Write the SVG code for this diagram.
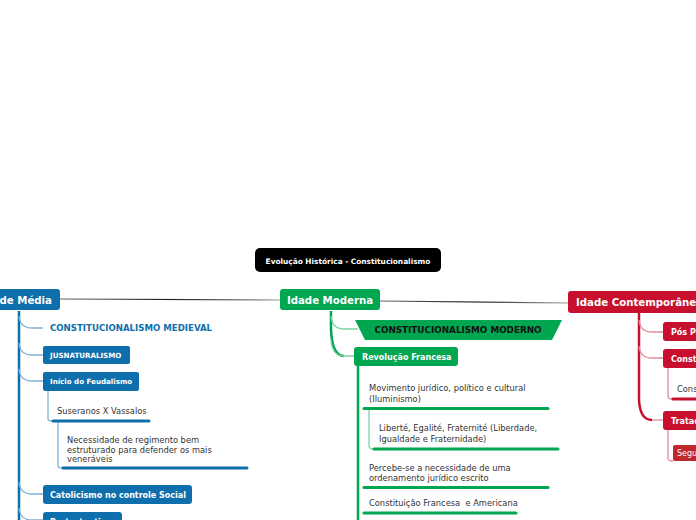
<svg xmlns="http://www.w3.org/2000/svg" width="696" height="520" viewBox="0 0 696 520">
<defs>
<style>
text{font-family:"DejaVu Sans","Verdana",sans-serif}
.w{fill:#fff;font-weight:bold}
.main{font-size:10.2px}
.sub{font-size:8px}
.body{fill:#333;font-size:8.3px}
.blue{fill:#0F6FAD}
.green{fill:#00A650}
.red{fill:#C8102E}
.tb{stroke:#0F6FAD;stroke-width:2.5;fill:none}
.bb{stroke:#7FB3D6;stroke-width:1.3;fill:none}
.tg{stroke:#00A650;stroke-width:2.5;fill:none}
.bg{stroke:#7ED3A4;stroke-width:1.3;fill:none}
.tr{stroke:#C8102E;stroke-width:2.5;fill:none}
.br{stroke:#E28A98;stroke-width:1.3;fill:none}
.ub{stroke:#0F6FAD;stroke-width:3;stroke-linecap:round}
.ug{stroke:#00A650;stroke-width:3;stroke-linecap:round}
.ur{stroke:#C8102E;stroke-width:3;stroke-linecap:round}
</style>
<linearGradient id="lg1" x1="0" x2="1" y1="0" y2="0"><stop offset="0" stop-color="#666"/><stop offset="0.5" stop-color="#222"/><stop offset="1" stop-color="#999"/></linearGradient>
</defs>
<g id="connectors">
<path d="M60,299 L280,300" stroke="url(#lg1)" stroke-width="1.2" fill="none"/>
<path d="M380,301 L568,303" stroke="url(#lg1)" stroke-width="1.2" fill="none"/>
<path class="tb" d="M19,311 V520"/>
<path class="bb" d="M19,316 Q20,328 32,328 H43"/>
<path class="bb" d="M19,343 Q20,355 32,355 H43"/>
<path class="bb" d="M19,369 Q20,381 32,381 H43"/>
<path class="bb" d="M19,482 Q20,494 32,494 H43"/>
<path class="bb" d="M19,508 Q20,520 32,520 H43"/>
<path class="bb" d="M48,391 V419 Q48,421 52,421"/>
<path class="bb" d="M58,421 V466 Q58,468 62,468"/>
<path class="tg" d="M331,311 V329"/>
<path class="bg" d="M331,316 Q332,329 344,329 H358"/>
<path class="tg" d="M331,329 Q332,356 344,356"/>
<path class="bg" d="M331,340 Q332,356 344,356 H354"/>
<path class="tg" d="M358,366 V520"/>
<path class="bg" d="M369,408 V446 Q369,449 373,449"/>
<path class="tr" d="M639,313 V400 Q640,420 652,420"/>
<path class="br" d="M639,320 Q640,332 652,332 H663"/>
<path class="br" d="M639,346 Q640,358 652,358 H663"/>
<path class="br" d="M652,420 H663"/>
<path class="br" d="M668,368 V396 Q668,399 672,399"/>
<path class="br" d="M668,430 V458 Q668,461 673,461"/>
</g>
<g id="title">
<rect x="255" y="248" width="186" height="24" rx="5" fill="#000"/>
<text x="348" y="264" class="w" font-size="7.4" text-anchor="middle">Evolução Histórica - Constitucionalismo</text>
</g>
<g id="idade-media">
<rect x="-40" y="289" width="100" height="21" rx="3" class="blue"/>
<text x="52" y="304" class="w main" text-anchor="end">Idade Média</text>
</g>
<g id="idade-moderna">
<rect x="280" y="289" width="100" height="21" rx="3" class="green"/>
<text x="330" y="304" class="w main" text-anchor="middle">Idade Moderna</text>
</g>
<g id="idade-contemporanea">
<rect x="568" y="291" width="140" height="22" rx="3" class="red"/>
<text x="576" y="306" class="w main">Idade Contemporânea</text>
</g>
<g id="const-medieval">
<text x="50" y="331" font-size="8.6" font-weight="bold" class="blue">CONSTITUCIONALISMO MEDIEVAL</text>
</g>
<g id="jusnaturalismo">
<rect x="43" y="346" width="87" height="18" rx="2" class="blue"/>
<text x="50" y="358" class="w" font-size="7.1">JUSNATURALISMO</text>
</g>
<g id="feudalismo">
<rect x="43" y="372" width="96" height="19" rx="2" class="blue"/>
<text x="50" y="384" class="w" font-size="7.1">Início do Feudalismo</text>
</g>
<g id="suseranos">
<text x="57" y="414" class="body">Suseranos X Vassalos</text>
<line x1="53" y1="421" x2="149" y2="421" class="ub"/>
</g>
<g id="necessidade">
<text class="body"><tspan x="67" y="443">Necessidade de regimento bem</tspan><tspan x="67" y="452.5">estruturado para defender os mais</tspan><tspan x="67" y="462">veneráveis</tspan></text>
<line x1="63" y1="468" x2="247" y2="468" class="ub"/>
</g>
<g id="catolicismo">
<rect x="43" y="485" width="149" height="19" rx="3" class="blue"/>
<text x="50" y="498" class="w sub">Catolicismo no controle Social</text>
</g>
<g id="protestantismo">
<rect x="43" y="512" width="79" height="19" rx="3" class="blue"/>
<text x="50" y="524.5" class="w sub">Protestantismo</text>
</g>
<g id="const-moderno">
<polygon points="355,320 562,320 552,340 365,340" class="green"/>
<text x="458" y="333" font-size="8.8" font-weight="bold" fill="#111" text-anchor="middle">CONSTITUCIONALISMO MODERNO</text>
</g>
<g id="revolucao">
<rect x="354" y="347" width="104" height="19" rx="3" class="green"/>
<text x="362" y="360" class="w sub">Revolução Francesa</text>
</g>
<g id="movimento">
<text class="body"><tspan x="369" y="391">Movimento jurídico, político e cultural</tspan><tspan x="369" y="402">(Iluminismo)</tspan></text>
<line x1="364" y1="408.5" x2="548" y2="408.5" class="ug"/>
</g>
<g id="liberte">
<text class="body"><tspan x="379" y="431">Liberté, Egalité, Fraternité (Liberdade,</tspan><tspan x="379" y="442">Igualdade e Fraternidade)</tspan></text>
<line x1="374" y1="449" x2="558" y2="449" class="ug"/>
</g>
<g id="percebe">
<text class="body"><tspan x="369" y="471">Percebe-se a necessidade de uma</tspan><tspan x="369" y="481">ordenamento jurídico escrito</tspan></text>
<line x1="364" y1="487.5" x2="548" y2="487.5" class="ug"/>
</g>
<g id="constituicao">
<text x="369" y="506" class="body" style="white-space:pre">Constituição Francesa  e Americana</text>
<line x1="364" y1="513" x2="516" y2="513" class="ug"/>
</g>
<g id="pos">
<rect x="663" y="322" width="60" height="19" rx="3" class="red"/>
<text x="671" y="335" class="w sub">Pós Primeira Guerra</text>
</g>
<g id="const-contemp">
<rect x="663" y="349" width="60" height="19" rx="3" class="red"/>
<text x="671" y="362" class="w sub">Constitucionalismo Social</text>
</g>
<g id="cons-text">
<text x="677" y="392" class="body">Constituição Mexicana</text>
<line x1="673" y1="399" x2="700" y2="399" class="ur"/>
</g>
<g id="tratados">
<rect x="663" y="411" width="60" height="19" rx="3" class="red"/>
<text x="671" y="424" class="w sub">Tratados Internacionais</text>
</g>
<g id="segunda">
<rect x="673" y="445" width="40" height="16" rx="2" fill="#C0272D"/>
<text x="677" y="456" fill="#fff" font-size="8">Segunda Guerra</text>
</g>
</svg>
